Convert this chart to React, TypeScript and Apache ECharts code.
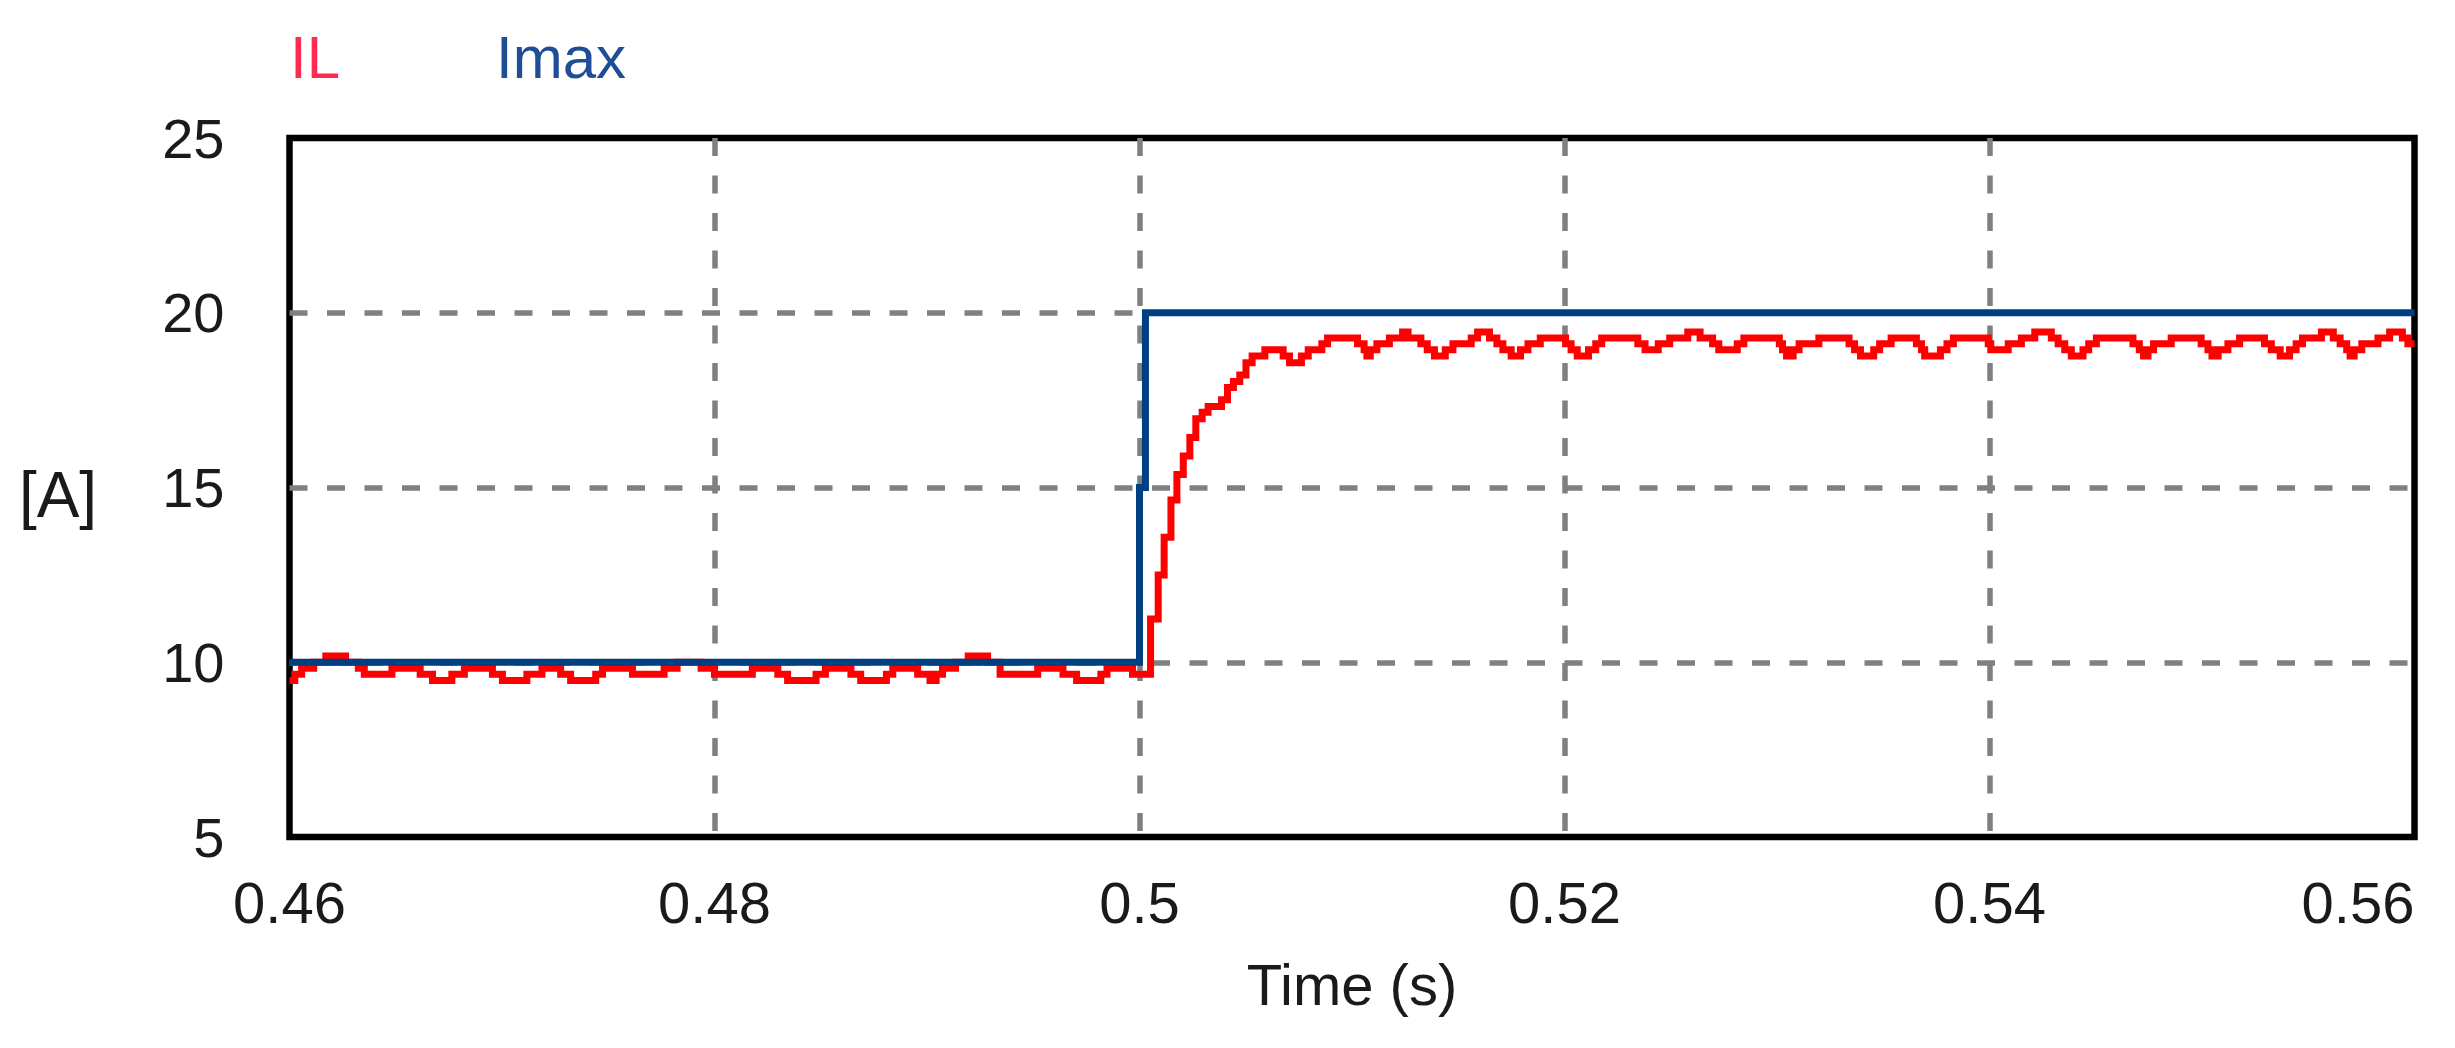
import React, { useEffect, useRef } from "react";
import * as echarts from "echarts";

const X_MIN = 0.46;
const X_MAX = 0.56;
const X_INTERVAL = 0.02;
const Y_MIN = 5;
const Y_MAX = 25;
const Y_INTERVAL = 5;

const SERIES_NAMES = ["IL", "Imax"];
const X_AXIS_TITLE = "Time (s)";
const Y_AXIS_TITLE = "[A]";

// IL: sample-and-hold trace, each entry holds until the next (time in ms, current in A)
const IL_TIME_MS = [
  460.0, 460.25, 460.57, 461.14, 461.71, 462.64, 463.24, 463.52, 464.82, 466.15,
  466.73, 467.64, 468.23, 469.55, 470.02, 471.17, 471.88, 472.76, 473.23, 474.41,
  474.73, 476.14, 477.63, 478.24, 479.37, 480.0, 481.78, 482.98, 483.44, 484.78,
  485.22, 486.42, 486.88, 488.09, 488.39, 489.56, 490.14, 490.43, 490.73, 491.34,
  491.94, 492.85, 493.44, 495.21, 496.4, 497.04, 498.18, 498.47, 499.67,
  500.52, 500.88, 501.16, 501.48, 501.76, 502.06, 502.37, 502.65, 502.95, 503.23,
  503.86, 504.14, 504.42, 504.72, 505.01, 505.3, 505.9, 506.76, 507.06, 507.62,
  507.94, 508.58, 508.85, 510.26, 510.57, 510.7, 510.86, 511.17, 511.76, 512.38,
  512.64, 513.24, 513.54, 513.88, 514.39, 514.75, 515.61, 515.91, 516.47, 516.82,
  517.1, 517.49, 517.93, 518.28, 518.86, 520.05, 520.31, 520.6, 521.13, 521.47,
  521.75, 523.45, 523.79, 524.41, 524.95, 525.8, 526.38, 526.97, 527.26, 528.13,
  528.44, 530.11, 530.26, 530.45, 530.76, 531.04, 531.97, 533.39, 533.65, 533.93,
  534.55, 534.83, 535.37, 536.56, 536.8, 536.95, 537.69, 538.0, 538.3, 539.94,
  540.06, 540.88, 541.5, 542.13, 542.91, 543.23, 543.54, 543.85, 544.4, 544.67,
  545.03, 546.75, 547.05, 547.25, 547.46, 547.72, 548.55, 549.96, 550.28, 550.47,
  550.76, 551.22, 551.77, 552.94, 553.26, 553.68, 554.12, 554.43, 554.73, 555.62,
  556.18, 556.5, 556.81, 556.97, 557.16, 557.52, 558.28, 558.83, 559.43, 559.69,
  560.0,
];
const IL_VALUE = [
  9.48, 9.66, 9.83, 10.0, 10.18, 10.0, 9.83, 9.66, 9.83, 9.66,
  9.48, 9.66, 9.83, 9.66, 9.48, 9.66, 9.83, 9.66, 9.48, 9.66,
  9.83, 9.66, 9.83, 10.0, 9.83, 9.66, 9.83, 9.66, 9.48, 9.66,
  9.83, 9.66, 9.48, 9.66, 9.83, 9.66, 9.48, 9.66, 9.83, 10.0,
  10.18, 10.0, 9.66, 9.83, 9.66, 9.48, 9.66, 9.83, 9.66,
  11.24, 12.5, 13.58, 14.64, 15.37, 15.9, 16.43, 16.97, 17.15, 17.32,
  17.51, 17.86, 18.03, 18.22, 18.57, 18.76, 18.94, 18.76, 18.57, 18.76,
  18.94, 19.11, 19.28, 19.11, 18.94, 18.76, 18.94, 19.11, 19.28, 19.45,
  19.28, 19.11, 18.94, 18.76, 18.94, 19.11, 19.28, 19.45, 19.28, 19.11,
  18.94, 18.76, 18.94, 19.11, 19.28, 19.11, 18.94, 18.76, 18.94, 19.11,
  19.28, 19.11, 18.94, 19.11, 19.28, 19.45, 19.28, 19.11, 18.94, 19.11,
  19.28, 19.11, 18.94, 18.76, 18.94, 19.11, 19.28, 19.11, 18.94, 18.76,
  18.94, 19.11, 19.28, 19.11, 18.94, 18.76, 18.94, 19.11, 19.28, 19.11,
  18.94, 19.11, 19.28, 19.45, 19.28, 19.11, 18.94, 18.76, 18.94, 19.11,
  19.28, 19.11, 18.94, 18.76, 18.94, 19.11, 19.28, 19.11, 18.94, 18.76,
  18.94, 19.11, 19.28, 19.11, 18.94, 18.76, 18.94, 19.11, 19.28, 19.45,
  19.28, 19.11, 18.94, 18.76, 18.94, 19.11, 19.28, 19.45, 19.28, 19.11,
  19.11,
];

// Imax: reference step (time in ms, current in A)
const IMAX_TIME_MS = [460, 500, 500.28, 560];
const IMAX_VALUE = [10, 15, 20, 20];

const FONT = "'Liberation Sans', Arial, Helvetica, sans-serif";
const TEXT_COLOR = "#1a1a1a";

export default function App() {
  const ref = useRef<HTMLDivElement>(null);

  useEffect(() => {
    if (!ref.current) return;
    const chart = echarts.init(ref.current, undefined, { renderer: "svg" });
    const ilData = IL_TIME_MS.map((t, i) => [t / 1000, IL_VALUE[i]]);
    const imaxData = IMAX_TIME_MS.map((t, i) => [t / 1000, IMAX_VALUE[i]]);
    const gridLineStyle = { color: "#808080", width: 5.5, type: [18, 19.5] };

    chart.setOption({
      animation: false,
      backgroundColor: "#ffffff",
      textStyle: { fontFamily: FONT },
      grid: {
        left: 289.5,
        right: 40.5,
        top: 138,
        bottom: 211,
        show: true,
        borderColor: "#000000",
        borderWidth: 6.5,
        backgroundColor: "transparent",
      },
      legend: [
        {
          data: [{ name: SERIES_NAMES[0], textStyle: { color: "#ff2a50" } }],
          left: 285,
          top: 27,
          padding: 0,
          itemWidth: 0,
          itemHeight: 0,
          icon: "rect",
          selectedMode: false,
          textStyle: { fontSize: 60, fontFamily: FONT },
        },
        {
          data: [{ name: SERIES_NAMES[1], textStyle: { color: "#1f4e96" } }],
          left: 491,
          top: 27,
          padding: 0,
          itemWidth: 0,
          itemHeight: 0,
          icon: "rect",
          selectedMode: false,
          textStyle: { fontSize: 60, fontFamily: FONT },
        },
      ],
      xAxis: {
        type: "value",
        min: X_MIN,
        max: X_MAX,
        interval: X_INTERVAL,
        name: X_AXIS_TITLE,
        nameLocation: "middle",
        nameGap: 118,
        nameTextStyle: { fontSize: 58, color: TEXT_COLOR, fontFamily: FONT },
        axisLine: { show: false },
        axisTick: { show: false },
        axisLabel: {
          fontSize: 58,
          color: TEXT_COLOR,
          fontFamily: FONT,
          margin: 36,
          alignMaxLabel: "right",
          formatter: (v: number) => String(+v.toFixed(2)),
        },
        splitLine: { show: true, showMinLine: false, showMaxLine: false, lineStyle: gridLineStyle },
      },
      yAxis: {
        type: "value",
        min: Y_MIN,
        max: Y_MAX,
        interval: Y_INTERVAL,
        axisLine: { show: false },
        axisTick: { show: false },
        axisLabel: {
          fontSize: 56,
          color: TEXT_COLOR,
          fontFamily: FONT,
          margin: 65,
          padding: [0, 0, 12, 0],
        },
        splitLine: { show: true, showMinLine: false, showMaxLine: false, lineStyle: gridLineStyle },
      },
      graphic: [
        {
          type: "text",
          x: 58,
          y: 495,
          style: {
            text: Y_AXIS_TITLE,
            fontSize: 64,
            fontFamily: FONT,
            fill: TEXT_COLOR,
            align: "center",
            verticalAlign: "middle",
            textAlign: "center",
            textVerticalAlign: "middle",
          },
        },
      ],
      series: [
        {
          name: SERIES_NAMES[0],
          type: "line",
          step: "end",
          data: ilData,
          showSymbol: false,
          symbol: "none",
          itemStyle: { color: "#ff0000" },
          lineStyle: { color: "#ff0000", width: 7, join: "miter" },
          z: 2,
        },
        {
          name: SERIES_NAMES[1],
          type: "line",
          step: "end",
          data: imaxData,
          showSymbol: false,
          symbol: "none",
          itemStyle: { color: "#004080" },
          lineStyle: { color: "#004080", width: 7, join: "miter" },
          z: 3,
        },
      ],
    });

    return () => chart.dispose();
  }, []);

  return (
    <div
      ref={ref}
      style={{ position: "fixed", left: 0, top: 0, width: 2455, height: 1048 }}
    />
  );
}
